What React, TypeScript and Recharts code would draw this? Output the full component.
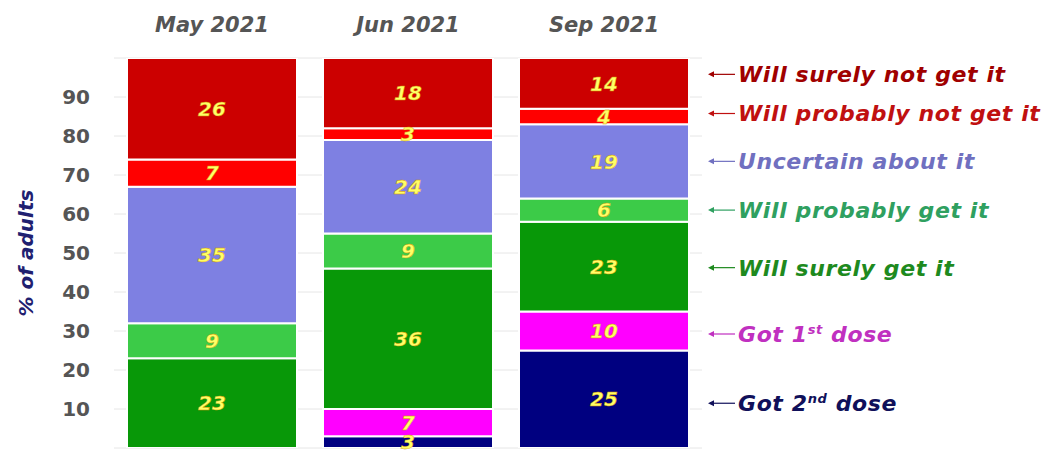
import React from 'react';
import { BarChart, Bar, XAxis, YAxis, CartesianGrid, LabelList } from 'recharts';

const categories = ['May 2021', 'Jun 2021', 'Sep 2021'];
const got2nd = [0, 3, 25];
const got1st = [0, 7, 10];
const surelyGet = [23, 36, 23];
const probablyGet = [9, 9, 6];
const uncertain = [35, 24, 19];
const probablyNot = [7, 3, 4];
const surelyNot = [26, 18, 14];
const yTicks = [10, 20, 30, 40, 50, 60, 70, 80, 90];

const data = categories.map((c, i) => ({
  cat: c,
  got2nd: got2nd[i],
  got1st: got1st[i],
  surelyGet: surelyGet[i],
  probablyGet: probablyGet[i],
  uncertain: uncertain[i],
  probablyNot: probablyNot[i],
  surelyNot: surelyNot[i],
}));

const FONT = '"DejaVu Sans", Arial, sans-serif';
const lastCat = categories[categories.length - 1];

type SeriesDef = { key: string; values: number[]; name: string; sup?: string; rest?: string; fill: string; text: string; dy: number };
const series: SeriesDef[] = [
  { key: 'got2nd', values: got2nd, name: 'Got 2', sup: 'nd', rest: ' dose', fill: '#000080', text: '#10105a', dy: 4 },
  { key: 'got1st', values: got1st, name: 'Got 1', sup: 'st', rest: ' dose', fill: '#FF00FF', text: '#c030c0', dy: 3 },
  { key: 'surelyGet', values: surelyGet, name: 'Will surely get it', fill: '#089808', text: '#1e8a1e', dy: 1 },
  { key: 'probablyGet', values: probablyGet, name: 'Will probably get it', fill: '#3CCB48', text: '#2fa060', dy: 0 },
  { key: 'uncertain', values: uncertain, name: 'Uncertain about it', fill: '#7E80E2', text: '#7070c0', dy: 0 },
  { key: 'probablyNot', values: probablyNot, name: 'Will probably not get it', fill: '#FF0000', text: '#c01010', dy: -3 },
  { key: 'surelyNot', values: surelyNot, name: 'Will surely not get it', fill: '#CC0000', text: '#a00000', dy: -9 },
];

const ValueLabel = (props: any) => {
  const { x, y, width, height, value } = props;
  if (!value) return null;
  return (
    <text
      x={Number(x) + Number(width) / 2}
      y={Number(y) + Number(height) / 2}
      dy="0.36em"
      textAnchor="middle"
      fill="#FFFF66"
      stroke="#d09000"
      strokeWidth={0.4}
      fontSize={20}
      fontWeight="bold"
      fontStyle="italic"
      fontFamily={FONT}
    >
      {value}
    </text>
  );
};

const isLast = (props: any, s: SeriesDef) => {
  const p = props.payload;
  if (p && p.cat !== undefined) return p.cat === lastCat;
  const nonZero = s.values.filter((v) => v !== 0).length;
  return props.index === nonZero - 1 || props.index === s.values.length - 1 && nonZero === s.values.length;
};

const makeLegend = (s: SeriesDef) => (props: any) => {
  const { x, y, width, height } = props;
  if (!isLast(props, s)) return null;
  const x0 = Number(x) + Number(width) + 19;
  const cy = Number(y) + Number(height) / 2 + s.dy;
  return (
    <g>
      <line x1={x0 + 2} y1={cy} x2={x0 + 27} y2={cy} stroke={s.text} strokeWidth={1.2} />
      <polygon points={`${x0},${cy} ${x0 + 6},${cy - 3} ${x0 + 6},${cy + 3}`} fill={s.text} />
      <text
        x={x0 + 30}
        y={cy}
        dy="0.36em"
        fill={s.text}
        fontSize={22}
        letterSpacing={0.6}
        fontWeight="bold"
        fontStyle="italic"
        fontFamily={FONT}
      >
        {s.sup ? (
          <>
            <tspan>{s.name}</tspan>
            <tspan dy={-8} fontSize={13}>{s.sup}</tspan>
            <tspan dy={8}>{s.rest}</tspan>
          </>
        ) : (
          s.name
        )}
      </text>
    </g>
  );
};

const YLabel = (props: any) => {
  const vb = props.viewBox || {};
  const cx = 26;
  const cy = Number(vb.y) + Number(vb.height) / 2;
  return (
    <text
      x={cx}
      y={cy}
      transform={`rotate(-90, ${cx}, ${cy})`}
      textAnchor="middle"
      dy="0.36em"
      fill="#202070"
      fontSize={20}
      fontWeight="bold"
      fontStyle="italic"
      fontFamily={FONT}
    >
      % of adults
    </text>
  );
};

export default function App() {
  return (
    <div style={{ width: 1053, height: 450, background: '#fff' }}>
      <style>{'body{margin:0}'}</style>
      <BarChart
        width={1053}
        height={450}
        data={data}
        margin={{ top: 0, right: 351, bottom: 2, left: 0 }}
        barCategoryGap={13}
      >
        <CartesianGrid vertical={false} stroke="#e6e6e6" />
        <XAxis
          dataKey="cat"
          orientation="top"
          height={58}
          axisLine={false}
          tickLine={false}
          tickSize={0}
          tickMargin={26}
          tick={{ fill: '#555', fontSize: 21, fontWeight: 'bold', fontStyle: 'italic', fontFamily: FONT }}
        />
        <YAxis
          width={114}
          domain={[0, 100]}
          allowDataOverflow
          ticks={yTicks}
          axisLine={false}
          tickLine={false}
          tickSize={0}
          tickMargin={24}
          tick={{ fill: '#555', fontSize: 20, fontWeight: 'bold', fontFamily: FONT }}
          label={{ content: YLabel }}
        />
        {series.map((s) => (
          <Bar
            key={s.key}
            dataKey={s.key}
            stackId="a"
            fill={s.fill}
            stroke="#ffffff"
            strokeWidth={2}
            isAnimationActive={false}
          >
            <LabelList dataKey={s.key} content={ValueLabel} />
            <LabelList dataKey={s.key} content={makeLegend(s)} />
          </Bar>
        ))}
      </BarChart>
    </div>
  );
}
